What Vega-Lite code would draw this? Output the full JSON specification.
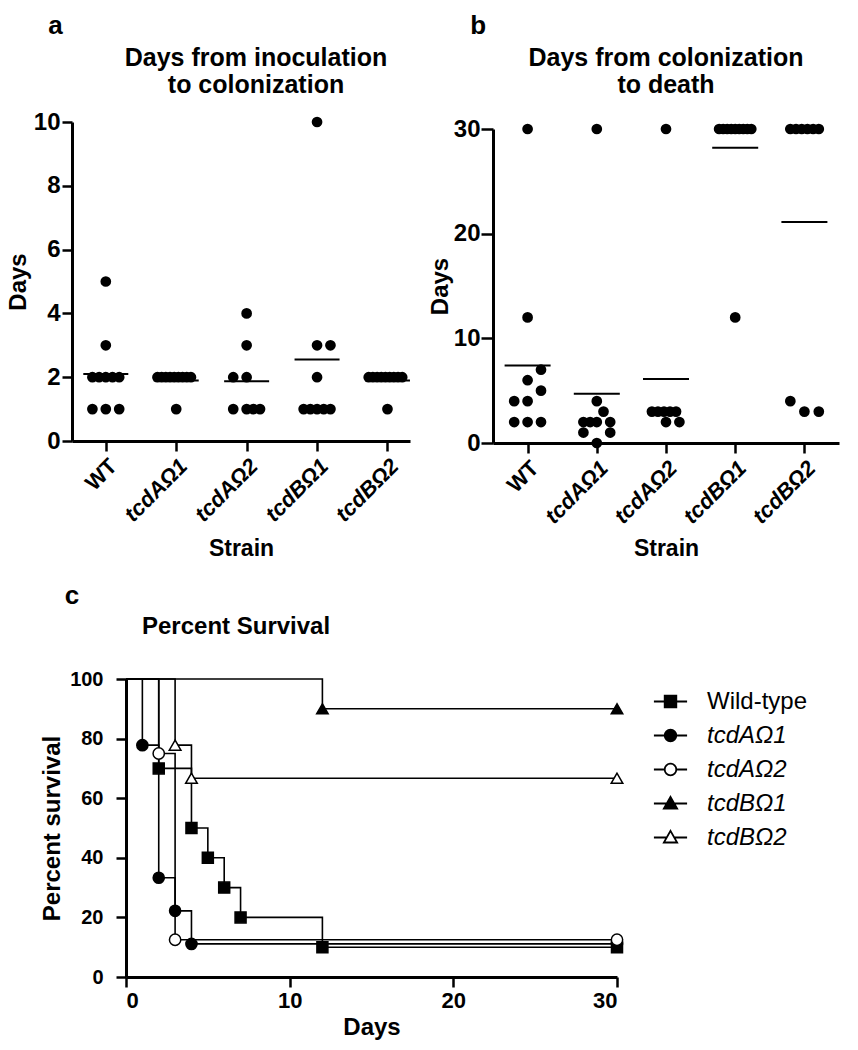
{
  "$schema": "https://vega.github.io/schema/vega-lite/v6.json",
  "background": "white",
  "padding": {"left": 6, "top": 13, "right": 5, "bottom": 5},
  "datasets": {
    "colonization": [
      {"strain": "WT", "days": 5, "col": 0},
      {"strain": "WT", "days": 3, "col": 0},
      {"strain": "WT", "days": 2, "col": -2},
      {"strain": "WT", "days": 2, "col": -1},
      {"strain": "WT", "days": 2, "col": 0},
      {"strain": "WT", "days": 2, "col": 1},
      {"strain": "WT", "days": 2, "col": 2},
      {"strain": "WT", "days": 1, "col": -2},
      {"strain": "WT", "days": 1, "col": 0},
      {"strain": "WT", "days": 1, "col": 2},
      {"strain": "tcdAΩ1", "days": 2, "col": -2.8},
      {"strain": "tcdAΩ1", "days": 2, "col": -2.175},
      {"strain": "tcdAΩ1", "days": 2, "col": -1.55},
      {"strain": "tcdAΩ1", "days": 2, "col": -0.925},
      {"strain": "tcdAΩ1", "days": 2, "col": -0.3},
      {"strain": "tcdAΩ1", "days": 2, "col": 0.325},
      {"strain": "tcdAΩ1", "days": 2, "col": 0.95},
      {"strain": "tcdAΩ1", "days": 2, "col": 1.575},
      {"strain": "tcdAΩ1", "days": 2, "col": 2.2},
      {"strain": "tcdAΩ1", "days": 1, "col": 0},
      {"strain": "tcdAΩ2", "days": 4, "col": 0},
      {"strain": "tcdAΩ2", "days": 3, "col": 0},
      {"strain": "tcdAΩ2", "days": 2, "col": -2},
      {"strain": "tcdAΩ2", "days": 2, "col": 0},
      {"strain": "tcdAΩ2", "days": 1, "col": -2},
      {"strain": "tcdAΩ2", "days": 1, "col": 0},
      {"strain": "tcdAΩ2", "days": 1, "col": 1},
      {"strain": "tcdAΩ2", "days": 1, "col": 2},
      {"strain": "tcdBΩ1", "days": 10, "col": 0},
      {"strain": "tcdBΩ1", "days": 3, "col": 0},
      {"strain": "tcdBΩ1", "days": 3, "col": 2},
      {"strain": "tcdBΩ1", "days": 2, "col": 0},
      {"strain": "tcdBΩ1", "days": 1, "col": -2},
      {"strain": "tcdBΩ1", "days": 1, "col": -1},
      {"strain": "tcdBΩ1", "days": 1, "col": 0},
      {"strain": "tcdBΩ1", "days": 1, "col": 1},
      {"strain": "tcdBΩ1", "days": 1, "col": 2},
      {"strain": "tcdBΩ2", "days": 2, "col": -2.8},
      {"strain": "tcdBΩ2", "days": 2, "col": -2.175},
      {"strain": "tcdBΩ2", "days": 2, "col": -1.55},
      {"strain": "tcdBΩ2", "days": 2, "col": -0.925},
      {"strain": "tcdBΩ2", "days": 2, "col": -0.3},
      {"strain": "tcdBΩ2", "days": 2, "col": 0.325},
      {"strain": "tcdBΩ2", "days": 2, "col": 0.95},
      {"strain": "tcdBΩ2", "days": 2, "col": 1.575},
      {"strain": "tcdBΩ2", "days": 2, "col": 2.2},
      {"strain": "tcdBΩ2", "days": 1, "col": 0}
    ],
    "death": [
      {"strain": "WT", "days": 30, "col": 0},
      {"strain": "WT", "days": 12, "col": 0},
      {"strain": "WT", "days": 7, "col": 2},
      {"strain": "WT", "days": 6, "col": 0},
      {"strain": "WT", "days": 5, "col": 2},
      {"strain": "WT", "days": 4, "col": -2},
      {"strain": "WT", "days": 4, "col": 0},
      {"strain": "WT", "days": 2, "col": -2},
      {"strain": "WT", "days": 2, "col": 0},
      {"strain": "WT", "days": 2, "col": 2},
      {"strain": "tcdAΩ1", "days": 30, "col": 0},
      {"strain": "tcdAΩ1", "days": 4, "col": 0},
      {"strain": "tcdAΩ1", "days": 3, "col": 1},
      {"strain": "tcdAΩ1", "days": 2, "col": -2},
      {"strain": "tcdAΩ1", "days": 2, "col": -1},
      {"strain": "tcdAΩ1", "days": 2, "col": 0},
      {"strain": "tcdAΩ1", "days": 2, "col": 2},
      {"strain": "tcdAΩ1", "days": 1, "col": -2},
      {"strain": "tcdAΩ1", "days": 1, "col": 2},
      {"strain": "tcdAΩ1", "days": 0, "col": 0},
      {"strain": "tcdAΩ2", "days": 30, "col": 0},
      {"strain": "tcdAΩ2", "days": 3, "col": -2.1},
      {"strain": "tcdAΩ2", "days": 3, "col": -1.2},
      {"strain": "tcdAΩ2", "days": 3, "col": -0.3},
      {"strain": "tcdAΩ2", "days": 3, "col": 0.6},
      {"strain": "tcdAΩ2", "days": 3, "col": 1.5},
      {"strain": "tcdAΩ2", "days": 2, "col": 0},
      {"strain": "tcdAΩ2", "days": 2, "col": 2},
      {"strain": "tcdBΩ1", "days": 30, "col": -2.4},
      {"strain": "tcdBΩ1", "days": 30, "col": -1.8},
      {"strain": "tcdBΩ1", "days": 30, "col": -1.2},
      {"strain": "tcdBΩ1", "days": 30, "col": -0.6},
      {"strain": "tcdBΩ1", "days": 30, "col": 0},
      {"strain": "tcdBΩ1", "days": 30, "col": 0.6},
      {"strain": "tcdBΩ1", "days": 30, "col": 1.2},
      {"strain": "tcdBΩ1", "days": 30, "col": 1.8},
      {"strain": "tcdBΩ1", "days": 30, "col": 2.4},
      {"strain": "tcdBΩ1", "days": 12, "col": 0},
      {"strain": "tcdBΩ2", "days": 30, "col": -2.1},
      {"strain": "tcdBΩ2", "days": 30, "col": -1.25},
      {"strain": "tcdBΩ2", "days": 30, "col": -0.4},
      {"strain": "tcdBΩ2", "days": 30, "col": 0.45},
      {"strain": "tcdBΩ2", "days": 30, "col": 1.3},
      {"strain": "tcdBΩ2", "days": 30, "col": 2.15},
      {"strain": "tcdBΩ2", "days": 4, "col": -2.1},
      {"strain": "tcdBΩ2", "days": 3, "col": 0},
      {"strain": "tcdBΩ2", "days": 3, "col": 2.15}
    ],
    "survival": [
      {"strain": "Wild-type", "day": 0, "pct": 100},
      {"strain": "Wild-type", "day": 2, "pct": 70},
      {"strain": "Wild-type", "day": 4, "pct": 50},
      {"strain": "Wild-type", "day": 5, "pct": 40},
      {"strain": "Wild-type", "day": 6, "pct": 30},
      {"strain": "Wild-type", "day": 7, "pct": 20},
      {"strain": "Wild-type", "day": 12, "pct": 10},
      {"strain": "Wild-type", "day": 30, "pct": 10},
      {"strain": "tcdAΩ1", "day": 0, "pct": 100},
      {"strain": "tcdAΩ1", "day": 1, "pct": 77.8},
      {"strain": "tcdAΩ1", "day": 2, "pct": 33.3},
      {"strain": "tcdAΩ1", "day": 3, "pct": 22.2},
      {"strain": "tcdAΩ1", "day": 4, "pct": 11.1},
      {"strain": "tcdAΩ1", "day": 30, "pct": 11.1},
      {"strain": "tcdAΩ2", "day": 0, "pct": 100},
      {"strain": "tcdAΩ2", "day": 2, "pct": 75},
      {"strain": "tcdAΩ2", "day": 3, "pct": 12.5},
      {"strain": "tcdAΩ2", "day": 30, "pct": 12.5},
      {"strain": "tcdBΩ1", "day": 0, "pct": 100},
      {"strain": "tcdBΩ1", "day": 12, "pct": 90},
      {"strain": "tcdBΩ1", "day": 30, "pct": 90},
      {"strain": "tcdBΩ2", "day": 0, "pct": 100},
      {"strain": "tcdBΩ2", "day": 3, "pct": 77.8},
      {"strain": "tcdBΩ2", "day": 4, "pct": 66.7},
      {"strain": "tcdBΩ2", "day": 30, "pct": 66.7}
    ]
  },
  "config": {
    "view": {"stroke": null},
    "font": "Liberation Sans",
    "axis": {
      "domainColor": "black", "domainWidth": 3, "tickColor": "black", "tickWidth": 2.5,
      "grid": false, "labelColor": "black", "labelFont": "Liberation Sans", "labelFontWeight": "bold",
      "titleColor": "black", "titleFont": "Liberation Sans", "titleFontWeight": "bold"
    },
    "title": {"font": "Liberation Sans", "fontWeight": "bold", "color": "black"}
  },
  "spacing": 22,
  "vconcat": [
    {
      "spacing": 18,
      "hconcat": [
        {
          "title": {"text": "a", "anchor": "start", "dx": 42, "dy": 3, "fontSize": 26, "offset": 10},
          "vconcat": [
            {
              "title": {"text": ["Days from inoculation", "to colonization"], "frame": "group", "anchor": "middle", "dx": 15, "fontSize": 25, "lineHeight": 27, "offset": 12},
              "width": 338,
              "height": 319,
              "data": {"name": "colonization"},
              "layer": [
                {
                  "mark": {"type": "point", "filled": true, "shape": "circle", "size": 115, "color": "black", "opacity": 1},
                  "encoding": {
                    "x": {"field": "strain", "type": "nominal", "sort": ["WT", "tcdAΩ1", "tcdAΩ2", "tcdBΩ1", "tcdBΩ2"],
                      "scale": {"type": "point", "padding": 0.4, "align": 0.6}, "title": "Strain",
                      "axis": {"labelAngle": -45, "labelAlign": "right", "labelBaseline": "top", "labelFontSize": 22, "labelPadding": 4, "tickSize": 10,
                        "labelFontStyle": {"condition": {"test": "datum.value === 'WT'", "value": "normal"}, "value": "italic"},
                        "titleFontSize": 23, "titlePadding": 12}},
                    "xOffset": {"field": "col", "type": "quantitative", "scale": {"domain": [-1, 1], "range": [-6.7, 6.7]}},
                    "y": {"field": "days", "type": "quantitative", "scale": {"domain": [0, 10], "nice": false}, "title": "Days",
                      "axis": {"values": [0, 2, 4, 6, 8, 10], "labelFontSize": 24, "labelPadding": 2, "tickSize": 10, "titleFontSize": 24, "titlePadding": 3}}
                  }
                },
                {
                  "mark": {"type": "tick", "color": "black", "size": 45, "thickness": 2},
                  "encoding": {
                    "x": {"field": "strain", "type": "nominal", "sort": ["WT", "tcdAΩ1", "tcdAΩ2", "tcdBΩ1", "tcdBΩ2"]},
                    "y": {"aggregate": "mean", "field": "days", "type": "quantitative"}
                  }
                }
              ]
            }
          ]
        },
        {
          "title": {"text": "b", "anchor": "start", "dx": 42, "dy": 3, "fontSize": 26, "offset": 10},
          "vconcat": [
            {
              "title": {"text": ["Days from colonization", "to death"], "frame": "group", "anchor": "middle", "fontSize": 25, "lineHeight": 27, "offset": 19},
              "width": 346,
              "height": 321,
              "data": {"name": "death"},
              "layer": [
                {
                  "mark": {"type": "point", "filled": true, "shape": "circle", "size": 115, "color": "black", "opacity": 1},
                  "encoding": {
                    "x": {"field": "strain", "type": "nominal", "sort": ["WT", "tcdAΩ1", "tcdAΩ2", "tcdBΩ1", "tcdBΩ2"],
                      "scale": {"type": "point", "padding": 0.5, "align": 0.5}, "title": "Strain",
                      "axis": {"labelAngle": -45, "labelAlign": "right", "labelBaseline": "top", "labelFontSize": 22, "labelPadding": 4, "tickSize": 10,
                        "labelFontStyle": {"condition": {"test": "datum.value === 'WT'", "value": "normal"}, "value": "italic"},
                        "titleFontSize": 23, "titlePadding": 10}},
                    "xOffset": {"field": "col", "type": "quantitative", "scale": {"domain": [-1, 1], "range": [-6.7, 6.7]}},
                    "y": {"field": "days", "type": "quantitative", "scale": {"domain": [0, 30], "nice": false, "range": [321, 7]}, "title": "Days",
                      "axis": {"values": [0, 10, 20, 30], "labelFontSize": 24, "labelPadding": 1, "tickSize": 12, "titleFontSize": 24, "titlePadding": 1}}
                  }
                },
                {
                  "mark": {"type": "tick", "color": "black", "size": 46, "thickness": 2},
                  "encoding": {
                    "x": {"field": "strain", "type": "nominal", "sort": ["WT", "tcdAΩ1", "tcdAΩ2", "tcdBΩ1", "tcdBΩ2"]},
                    "y": {"aggregate": "mean", "field": "days", "type": "quantitative"}
                  }
                }
              ]
            }
          ]
        }
      ]
    },
    {
      "title": {"text": "c", "anchor": "start", "dx": 24, "fontSize": 26, "offset": 6},
      "vconcat": [
        {
          "title": {"text": "Percent Survival", "anchor": "start", "frame": "group", "dx": 70, "fontSize": 24, "offset": 30},
          "width": 545,
          "height": 298,
          "data": {"name": "survival"},
          "resolve": {"scale": {"shape": "independent", "fill": "independent", "size": "independent"}},
          "layer": [
            {
              "mark": {"type": "line", "interpolate": "step-after", "color": "black", "strokeWidth": 1.6},
              "encoding": {
                "x": {"field": "day", "type": "quantitative", "scale": {"domain": [0, 30], "nice": false, "range": [54, 545]}, "title": "Days",
                  "axis": {"values": [0, 10, 20, 30], "labelFontSize": 22, "labelPadding": 3, "tickSize": 10, "titleFontSize": 24, "titlePadding": 4}},
                "y": {"field": "pct", "type": "quantitative", "scale": {"domain": [0, 100], "nice": false}, "title": "Percent survival",
                  "axis": {"values": [0, 20, 40, 60, 80, 100], "offset": -54, "labelFontSize": 20, "labelPadding": 13, "tickSize": 10, "titleFontSize": 24, "titlePadding": 5}},
                "detail": {"field": "strain", "type": "nominal"}
              }
            },
            {
              "transform": [{"filter": "datum.day > 0"}],
              "mark": {"type": "point", "filled": true, "stroke": "black", "strokeWidth": 1.5, "opacity": 1},
              "encoding": {
                "x": {"field": "day", "type": "quantitative"},
                "y": {"field": "pct", "type": "quantitative"},
                "shape": {"field": "strain", "type": "nominal", "legend": null,
                  "scale": {"domain": ["Wild-type", "tcdAΩ1", "tcdAΩ2", "tcdBΩ1", "tcdBΩ2"], "range": ["square", "circle", "circle", "triangle-up", "triangle-up"]}},
                "fill": {"field": "strain", "type": "nominal", "legend": null,
                  "scale": {"domain": ["Wild-type", "tcdAΩ1", "tcdAΩ2", "tcdBΩ1", "tcdBΩ2"], "range": ["black", "black", "white", "black", "white"]}},
                "size": {"field": "strain", "type": "nominal", "legend": null,
                  "scale": {"domain": ["Wild-type", "tcdAΩ1", "tcdAΩ2", "tcdBΩ1", "tcdBΩ2"], "range": [121, 135, 135, 210, 210]}}
              }
            },
            {
              "transform": [{"filter": "false"}],
              "mark": {"type": "point", "filled": true, "stroke": "black", "strokeWidth": 1.8, "opacity": 1},
              "encoding": {
                "shape": {"field": "strain", "type": "nominal",
                  "scale": {"domain": ["Wild-type", "tcdAΩ1", "tcdAΩ2", "tcdBΩ1", "tcdBΩ2"],
                    "range": [
                      "M-1,0H-0.35M0.35,0H1M-0.35,-0.35H0.35V0.35H-0.35Z",
                      "M-1,0H-0.35M0.35,0H1M-0.35,0A0.35,0.35 0 1,0 0.35,0A0.35,0.35 0 1,0 -0.35,0Z",
                      "M-1,0H-0.35M0.35,0H1M-0.35,0A0.35,0.35 0 1,0 0.35,0A0.35,0.35 0 1,0 -0.35,0Z",
                      "M-1,0H-0.23M0.23,0H1M0,-0.4L0.4,0.3H-0.4Z",
                      "M-1,0H-0.23M0.23,0H1M0,-0.4L0.4,0.3H-0.4Z"
                    ]},
                  "legend": {"title": null, "orient": "right", "offset": 27, "padding": 5, "symbolSize": 1100, "labelFontSize": 24, "labelFont": "Liberation Sans", "labelFontWeight": "normal", "labelColor": "black", "labelOffset": 19, "rowPadding": 4, "labelLimit": 300, "symbolStrokeWidth": 1.8, "symbolStrokeColor": "black",
                    "encoding": {"symbols": {"stroke": {"value": "black"}, "strokeWidth": {"value": 1.8}, "opacity": {"value": 1}}, "labels": {"fontStyle": {"condition": {"test": "datum.label === 'Wild-type'", "value": "normal"}, "value": "italic"}}}}},
                "fill": {"field": "strain", "type": "nominal",
                  "scale": {"domain": ["Wild-type", "tcdAΩ1", "tcdAΩ2", "tcdBΩ1", "tcdBΩ2"], "range": ["black", "black", "white", "black", "white"]},
                  "legend": {"title": null, "orient": "right", "offset": 27, "padding": 5, "symbolSize": 1100, "labelFontSize": 24, "labelFont": "Liberation Sans", "labelFontWeight": "normal", "labelColor": "black", "labelOffset": 19, "rowPadding": 4, "labelLimit": 300, "symbolStrokeWidth": 1.8, "symbolStrokeColor": "black",
                    "encoding": {"symbols": {"stroke": {"value": "black"}, "strokeWidth": {"value": 1.8}, "opacity": {"value": 1}}, "labels": {"fontStyle": {"condition": {"test": "datum.label === 'Wild-type'", "value": "normal"}, "value": "italic"}}}}}
              }
            }
          ]
        }
      ]
    }
  ]
}
